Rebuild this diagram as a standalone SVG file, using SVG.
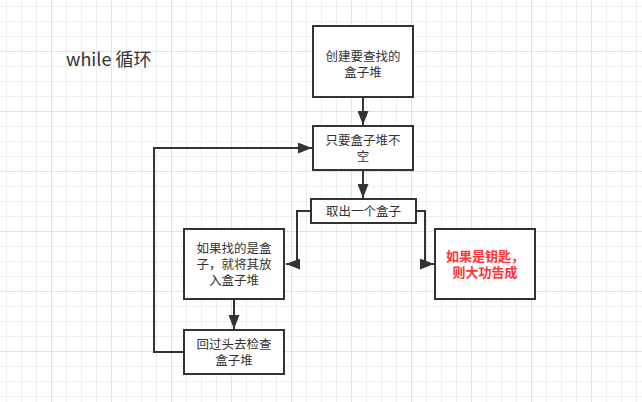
<svg xmlns="http://www.w3.org/2000/svg" width="642" height="402" viewBox="0 0 642 402">
  <defs>
    <pattern id="grid" patternUnits="userSpaceOnUse" x="-9" y="-9" width="60" height="60">
      <rect x="0" y="0" width="60" height="60" fill="#ffffff"/>
      <rect x="15" y="0" width="1" height="60" fill="#efefef"/>
      <rect x="30" y="0" width="1" height="60" fill="#efefef"/>
      <rect x="45" y="0" width="1" height="60" fill="#efefef"/>
      <rect x="0" y="15" width="60" height="1" fill="#efefef"/>
      <rect x="0" y="30" width="60" height="1" fill="#efefef"/>
      <rect x="0" y="45" width="60" height="1" fill="#efefef"/>
      <rect x="0" y="0" width="1" height="60" fill="#e2e2e2"/>
      <rect x="0" y="0" width="60" height="1" fill="#e2e2e2"/>
    </pattern>
    <marker id="arrow" markerUnits="userSpaceOnUse" viewBox="0 0 14 11" refX="14" refY="5.5" markerWidth="14" markerHeight="11" orient="auto">
      <path d="M0,0 L14,5.5 L0,11 Z" fill="#333333"/>
    </marker>
  </defs>
  <style>
    .box { fill: #ffffff; stroke: #333333; stroke-width: 2; }
    .edge { fill: none; stroke: #333333; stroke-width: 2; marker-end: url(#arrow); }
    .label { font-family: "Noto Sans CJK SC", "Noto Sans", sans-serif; font-size: 12.5px; fill: #333333; text-anchor: middle; }
    .key { font-family: "Noto Sans CJK SC", "Noto Sans", sans-serif; font-size: 13px; font-weight: bold; fill: #ff3333; text-anchor: middle; }
    .title { font-family: "Noto Sans CJK SC", "Noto Sans", sans-serif; font-size: 18px; fill: #333333; }
  </style>
  <rect x="0" y="0" width="642" height="402" fill="url(#grid)"/>

  <text class="title" x="66" y="66">while 循环</text>

  <g id="connectors">
    <path class="edge" d="M363,97 V125"/>
    <path class="edge" d="M363,170 V198"/>
    <path class="edge" d="M311,211 H297 V264 H286"/>
    <path class="edge" d="M416,211 H425 V264 H434"/>
    <path class="edge" d="M234,299 V329"/>
    <path class="edge" d="M184,352 H154 V148 H312"/>
  </g>

  <g id="create">
    <rect class="box" x="313" y="26" width="100" height="71"/>
    <text class="label"><tspan x="363" y="60.5">创建要查找的</tspan><tspan x="363" y="76.5">盒子堆</tspan></text>
  </g>
  <g id="while-not-empty">
    <rect class="box" x="313" y="126" width="100" height="44"/>
    <text class="label"><tspan x="363" y="144.6">只要盒子堆不</tspan><tspan x="363" y="160.6">空</tspan></text>
  </g>
  <g id="take-box">
    <rect class="box" x="311" y="199" width="105" height="24"/>
    <text class="label" x="363.5" y="215.6">取出一个盒子</text>
  </g>
  <g id="if-box">
    <rect class="box" x="184" y="229" width="100" height="70"/>
    <text class="label"><tspan x="234" y="252.6">如果找的是盒</tspan><tspan x="234" y="268.6">子，就将其放</tspan><tspan x="234" y="284.6">入盒子堆</tspan></text>
  </g>
  <g id="go-back">
    <rect class="box" x="184" y="330" width="100" height="44"/>
    <text class="label"><tspan x="234" y="348.6">回过头去检查</tspan><tspan x="234" y="364.6">盒子堆</tspan></text>
  </g>
  <g id="if-key">
    <rect class="box" x="435" y="229" width="100" height="70"/>
    <text class="key"><tspan x="485" y="260.8">如果是钥匙，</tspan><tspan x="485" y="276.8">则大功告成</tspan></text>
  </g>
</svg>
